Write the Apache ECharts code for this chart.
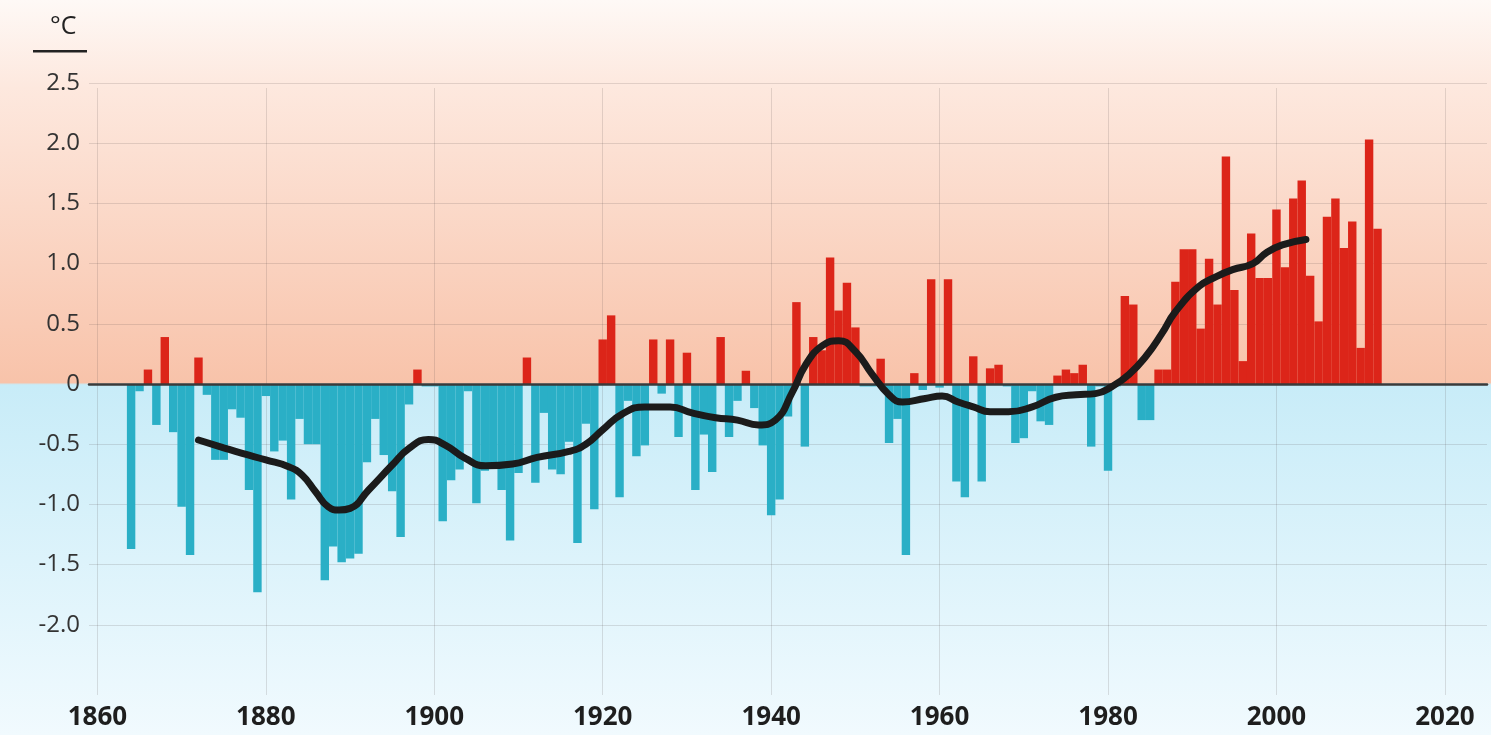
<!DOCTYPE html>
<html>
<head>
<meta charset="utf-8">
<style>
  html, body { margin: 0; padding: 0; width: 100%; height: 100%; overflow: hidden; }
  #chart { width: 1491px; height: 735px; }
</style>
<script src="https://cdn.jsdelivr.net/npm/echarts@6/dist/echarts.min.js"></script>
</head>
<body>
<div id="chart"></div>
<script>
// ---- data ----
const axisFirstYear = 1859;
const axisLastYear = 2025;
const tickYears = [1860, 1880, 1900, 1920, 1940, 1960, 1980, 2000, 2020];
const yTicks = [-2.0, -1.5, -1.0, -0.5, 0, 0.5, 1.0, 1.5, 2.0, 2.5];

const startYear = 1864;
const anomaly = [
  // 1864-1869
  -1.37, -0.06, 0.12, -0.34, 0.39, -0.40,
  // 1870s
  -1.02, -1.42, 0.22, -0.09, -0.63, -0.63, -0.21, -0.28, -0.88, -1.73,
  // 1880s
  -0.10, -0.56, -0.47, -0.96, -0.29, -0.50, -0.50, -1.63, -1.35, -1.48,
  // 1890s
  -1.45, -1.41, -0.65, -0.29, -0.59, -0.89, -1.27, -0.17, 0.12, -0.02,
  // 1900s
  -0.02, -1.14, -0.80, -0.71, -0.06, -0.99, -0.72, -0.70, -0.88, -1.30,
  // 1910s
  -0.74, 0.22, -0.82, -0.24, -0.71, -0.75, -0.48, -1.32, -0.33, -1.04,
  // 1920s
  0.37, 0.57, -0.94, -0.14, -0.60, -0.51, 0.37, -0.08, 0.37, -0.44,
  // 1930s
  0.26, -0.88, -0.42, -0.73, 0.39, -0.44, -0.14, 0.11, -0.20, -0.51,
  // 1940s
  -1.09, -0.96, -0.27, 0.68, -0.52, 0.39, 0.28, 1.05, 0.61, 0.84,
  // 1950s
  0.47, -0.02, -0.02, 0.21, -0.49, -0.29, -1.42, 0.09, -0.05, 0.87,
  // 1960s
  -0.03, 0.87, -0.81, -0.94, 0.23, -0.81, 0.13, 0.16, -0.02, -0.49,
  // 1970s
  -0.45, -0.06, -0.31, -0.34, 0.07, 0.12, 0.09, 0.16, -0.52, -0.02,
  // 1980s
  -0.72, -0.02, 0.73, 0.66, -0.30, -0.30, 0.12, 0.12, 0.85, 1.12,
  // 1990s
  1.12, 0.46, 1.04, 0.66, 1.89, 0.78, 0.19, 1.25, 0.88, 0.88,
  // 2000s
  1.45, 0.97, 1.54, 1.69, 0.90, 0.52, 1.39, 1.54, 1.13, 1.35,
  // 2010-2012
  0.30, 2.03, 1.29
];

const smoothYears = [1872, 1875, 1877.2, 1880, 1882.7, 1884.3, 1885.9, 1887.4, 1888.7, 1890,
  1892.2, 1895, 1897, 1899.3, 1901.3, 1903.7, 1906.1, 1909.3, 1912.2, 1916,
  1918, 1920, 1922.3, 1925, 1928, 1930.6, 1933.4, 1936, 1938.5, 1940.5,
  1942.5, 1944.1, 1946.1, 1948, 1950, 1952, 1954, 1955.6, 1958.3, 1960.3,
  1962.2, 1964, 1966, 1968.2, 1971, 1973.8, 1976.2, 1978.5, 1980.5, 1982.5,
  1984.5, 1986.4, 1988, 1990.8, 1992.8, 1994.8, 1997.2, 1998.8, 2000.7, 2003.5];
const smoothValues = [-0.465, -0.53, -0.576, -0.63, -0.687, -0.756, -0.895, -1.02, -1.047, -1.033,
  -0.88, -0.673, -0.535, -0.46, -0.507, -0.618, -0.68, -0.665, -0.61, -0.56,
  -0.50, -0.38, -0.25, -0.19, -0.19, -0.24, -0.28, -0.30, -0.34, -0.30,
  -0.07, 0.16, 0.32, 0.36, 0.27, 0.08, -0.09, -0.15, -0.12, -0.10,
  -0.15, -0.19, -0.23, -0.23, -0.19, -0.11, -0.09, -0.08, -0.02, 0.08,
  0.23, 0.42, 0.60, 0.81, 0.89, 0.95, 1.00, 1.09, 1.155, 1.20];

// ---- build ----
const categories = [];
const barValues = [];
for (let y = axisFirstYear; y <= axisLastYear; y++) {
  categories.push(String(y));
  const i = y - startYear;
  barValues.push(i >= 0 && i < anomaly.length ? anomaly[i] : null);
}
const smoothLine = smoothYears.map((y, i) => [y, smoothValues[i]]);

const RED = '#dc2519';
const BLUE = '#2aafc6';
const GRID_LEFT = 89, GRID_RIGHT = 4, GRID_TOP = 83, GRID_BOTTOM = 50;
const Y_MIN = -2.5, Y_MAX = 2.5;
const isTick = (idx, val) => tickYears.indexOf(+val) >= 0;
const gridLineStyle = { color: 'rgba(90,80,80,0.17)', width: 1 };

const chart = echarts.init(document.getElementById('chart'));
const H = 735;
const zeroY = GRID_TOP + (Y_MAX / (Y_MAX - Y_MIN)) * (H - GRID_TOP - GRID_BOTTOM);
const zf = zeroY / H;

chart.setOption({
  animation: false,
  backgroundColor: {
    type: 'linear', x: 0, y: 0, x2: 0, y2: 1,
    colorStops: [
      { offset: 0, color: '#fef9f6' },
      { offset: 0.12, color: '#fde8de' },
      { offset: zf - 0.002, color: '#f8c3aa' },
      { offset: zf + 0.001, color: '#c8ecf8' },
      { offset: 1, color: '#f1fafe' }
    ]
  },
  graphic: [
    { type: 'text', left: 50, top: 14, style: { text: '°C', fontSize: 25, fill: '#222', fontFamily: 'Open Sans' } },
    { type: 'rect', shape: { x: 33, y: 50, width: 54, height: 2.5 }, style: { fill: '#222' } }
  ],
  grid: [
    { left: GRID_LEFT, right: GRID_RIGHT, top: GRID_TOP, bottom: GRID_BOTTOM },
    { left: GRID_LEFT, right: GRID_RIGHT, top: 88, bottom: 40 }
  ],
  xAxis: [
    {
      type: 'category', gridIndex: 0, data: categories, boundaryGap: false, z: 3,
      axisLine: { show: true, onZero: true, lineStyle: { color: '#3a3a3a', width: 2.5 } },
      axisTick: { show: false }, axisLabel: { show: false }, splitLine: { show: false }
    },
    { type: 'value', gridIndex: 0, min: axisFirstYear, max: axisLastYear, show: false },
    {
      type: 'category', gridIndex: 1, data: categories, boundaryGap: false,
      axisLine: { show: false }, axisTick: { show: false },
      axisLabel: {
        interval: isTick, margin: 10, fontSize: 26, fontWeight: 'bold',
        fontFamily: 'Open Sans', color: '#1e1e1e'
      },
      splitLine: { show: true, interval: isTick, lineStyle: gridLineStyle }
    }
  ],
  yAxis: [
    {
      type: 'value', gridIndex: 0, min: Y_MIN, max: Y_MAX, interval: 0.5,
      axisLine: { show: false }, axisTick: { show: false },
      axisLabel: {
        margin: 9, fontSize: 24, fontFamily: 'Open Sans', color: '#333',
        formatter: v => {
          const hit = yTicks.find(t => Math.abs(t - v) < 1e-6);
          if (hit === undefined) return '';
          return hit === 0 ? '0' : hit.toFixed(1);
        }
      },
      splitLine: { show: true, showMinLine: false, lineStyle: gridLineStyle }
    },
    { type: 'value', gridIndex: 1, show: false, min: 0, max: 1, splitLine: { show: false } }
  ],
  series: [
    {
      type: 'bar', xAxisIndex: 0, yAxisIndex: 0, data: barValues,
      barCategoryGap: '0%', barWidth: '100%', z: 2,
      itemStyle: { color: p => (p.value >= 0 ? RED : BLUE) }
    },
    {
      type: 'line', xAxisIndex: 1, yAxisIndex: 0, data: smoothLine,
      smooth: 0.5, showSymbol: false, z: 5,
      lineStyle: { color: '#1b1b1b', width: 7, cap: 'round', join: 'round' }
    }
  ]
});
</script>
</body>
</html>
